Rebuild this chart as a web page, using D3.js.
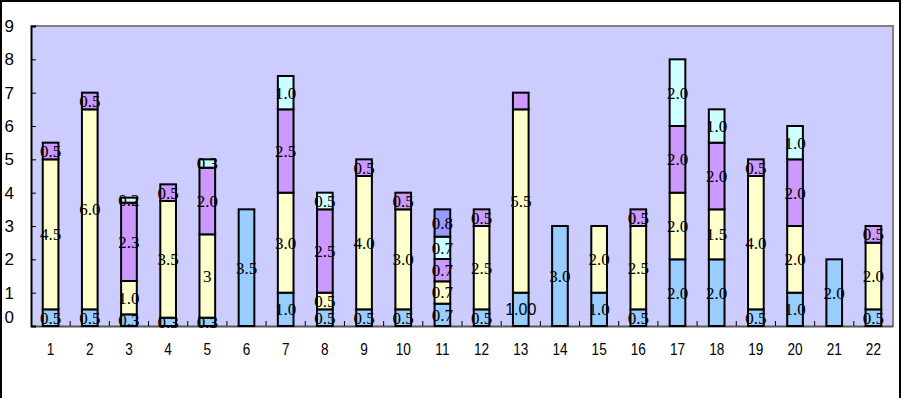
<!DOCTYPE html>
<html>
<head>
<meta charset="utf-8">
<script src="https://cdn.jsdelivr.net/npm/d3@7"></script>
<style>
  body { margin: 0; background: #fff; }
  svg { display: block; }
</style>
</head>
<body>
<div id="chart"></div>
<script>
// categories and series (bottom to top of each stack)
var categories = ["1","2","3","4","5","6","7","8","9","10","11","12","13","14","15","16","17","18","19","20","21","22"];
var blueVals   = [0.5,0.5,0.35,0.25,0.25,3.5,1.0,0.5,0.5,0.5,0.67,0.5,1.0,3.0,1.0,0.5,2.0,2.0,0.5,1.0,2.0,0.5];
var yellowVals = [4.5,6.0,1.0,3.5,2.5,0,3.0,0.5,4.0,3.0,0.67,2.5,5.5,0,2.0,2.5,2.0,1.5,4.0,2.0,0,2.0];
var purpleVals = [0.5,0.5,2.35,0.5,2.0,0,2.5,2.5,0.5,0.5,0.67,0.5,0.5,0,0,0.5,2.0,2.0,0.5,2.0,0,0.5];
var cyanVals   = [0,0,0.15,0,0.25,0,1.0,0.5,0,0,0.67,0,0,0,0,0,2.0,1.0,0,1.0,0,0];
var violetVals = [0,0,0,0,0,0,0,0,0,0,0.82,0,0,0,0,0,0,0,0,0,0,0];

// segment labels as printed on the chart
var blueLabels   = ["0.5","0.5","0.3","0.3","0.3","3.5","1.0","0.5","0.5","0.5","0.7","0.5","1.00","3.0","1.0","0.5","2.0","2.0","0.5","1.0","2.0","0.5"];
var yellowLabels = ["4.5","6.0","1.0","3.5","3","","3.0","0.5","4.0","3.0","0.7","2.5","5.5","","2.0","2.5","2.0","1.5","4.0","2.0","","2.0"];
var purpleLabels = ["0.5","0.5","2.3","0.5","2.0","","2.5","2.5","0.5","0.5","0.7","0.5","","","","0.5","2.0","2.0","0.5","2.0","","0.5"];
var cyanLabels   = ["","","0.2","","0.3","","1.0","0.5","","","0.7","","","","","","2.0","1.0","","1.0","",""];
var violetLabels = ["","","","","","","","","","","0.8","","","","","","","","","","",""];

var yTicks = [0,1,2,3,4,5,6,7,8,9];

var keys = ["blue","yellow","purple","cyan","violet"];
var colors = { blue: "#99ccff", yellow: "#ffffcc", purple: "#cc99ff", cyan: "#ccffff", violet: "#9999ff" };
var labelSets = { blue: blueLabels, yellow: yellowLabels, purple: purpleLabels, cyan: cyanLabels, violet: violetLabels };

// build table for d3.stack
var table = categories.map(function(c, i) {
  return { cat: c, blue: blueVals[i], yellow: yellowVals[i], purple: purpleVals[i], cyan: cyanVals[i], violet: violetVals[i] };
});

var svgWidth = 902;
var svgHeight = 398;
var plot = { left: 31, top: 26, right: 893, bottom: 326 };
var axisFont = "'Liberation Sans', Arial, sans-serif";

var svg = d3.select("#chart").append("svg")
  .attr("width", svgWidth)
  .attr("height", svgHeight);

// outer frame
svg.append("rect")
  .attr("x", 1).attr("y", 1)
  .attr("width", 899).attr("height", 420)
  .attr("fill", "#fff")
  .attr("stroke", "#000")
  .attr("stroke-width", 2);

var x = d3.scaleBand()
  .domain(categories)
  .range([plot.left, plot.right])
  .paddingInner(0.6)
  .paddingOuter(0.3);

var y = d3.scaleLinear()
  .domain([0, 9])
  .range([plot.bottom, plot.top]);

// plot background
svg.append("rect")
  .attr("x", plot.left).attr("y", plot.top)
  .attr("width", plot.right - plot.left)
  .attr("height", plot.bottom - plot.top)
  .attr("fill", "#ccccff");

// gray top and right border
svg.append("path")
  .attr("d", "M" + plot.left + "," + plot.top + "H" + plot.right + "V" + plot.bottom)
  .attr("fill", "none")
  .attr("stroke", "#808080")
  .attr("stroke-width", 2);

// x axis: line plus short ticks between categories pointing up
var bottomAxis = d3.axisBottom(x).tickSize(0).tickPadding(17);
var xAxis = svg.append("g")
  .attr("transform", "translate(0," + plot.bottom + ")")
  .call(bottomAxis);
xAxis.select(".domain").attr("stroke", "#555").attr("stroke-width", 2);
xAxis.selectAll(".tick text")
  .attr("transform", "scale(0.8,1)")
  .style("font-family", axisFont)
  .style("font-size", "17px")
  .attr("fill", "#000");

xAxis.selectAll(".sep")
  .data(categories.slice(1))
  .enter().append("line")
  .attr("class", "sep")
  .attr("x1", function(d) { return x(d) - (x.step() - x.bandwidth()) / 2; })
  .attr("x2", function(d) { return x(d) - (x.step() - x.bandwidth()) / 2; })
  .attr("y1", 0).attr("y2", -5)
  .attr("stroke", "#000");

var stacked = d3.stack().keys(keys)(table);

var layers = svg.selectAll("g.layer")
  .data(stacked)
  .enter().append("g")
  .attr("class", "layer")
  .attr("fill", function(d) { return colors[d.key]; });

layers.selectAll("rect")
  .data(function(d) { return d.filter(function(p) { return p[1] - p[0] > 0; }); })
  .enter().append("rect")
  .attr("x", function(d) { return x(d.data.cat); })
  .attr("width", x.bandwidth())
  .attr("y", function(d) { return y(d[1]); })
  .attr("height", function(d) { return y(d[0]) - y(d[1]); })
  .attr("stroke", "#000")
  .attr("stroke-width", 2);

// segment labels
stacked.forEach(function(layer) {
  var labels = labelSets[layer.key];
  layer.forEach(function(p, i) {
    if (!labels[i]) return;
    var plain = labels[i] === "1.00"; // this one is drawn in the axis font
    svg.append("text")
      .attr("x", x(p.data.cat) + x.bandwidth() / 2)
      .attr("y", y((p[0] + p[1]) / 2))
      .attr("dy", "0.35em")
      .attr("text-anchor", "middle")
      .style("font-family", plain ? axisFont : "'Liberation Serif', serif")
      .style("font-size", plain ? "16px" : "17px")
      .attr("fill", "#000")
      .text(labels[i]);
  });
});

// y axis with inward ticks
var leftAxis = d3.axisLeft(y).tickValues(yTicks).tickSize(-5).tickFormat(d3.format("d"));
var yAxis = svg.append("g")
  .attr("transform", "translate(" + plot.left + ",0)")
  .call(leftAxis);
yAxis.select(".domain").attr("stroke", "#000").attr("stroke-width", 2);
yAxis.selectAll(".tick line").attr("stroke", "#000");
yAxis.selectAll(".tick text")
  .attr("x", -17)
  .attr("transform", function(d) { return d === 0 ? "translate(0,-9)" : null; })
  .style("font-family", axisFont)
  .style("font-size", "17px")
  .attr("fill", "#000");
</script>
</body>
</html>
